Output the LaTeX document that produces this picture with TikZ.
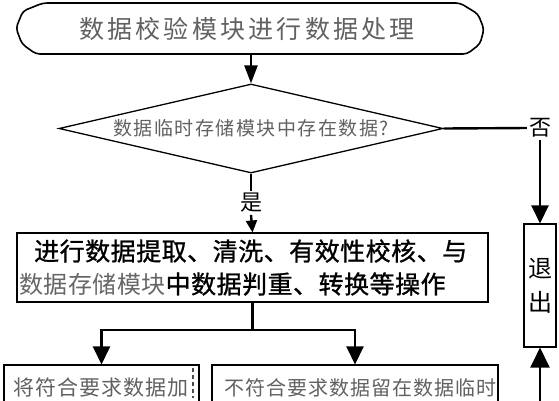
\documentclass[tikz,border=0pt]{standalone}
\usepackage{fontspec}
\newfontfamily\cjk{Noto Sans CJK SC}
\newfontfamily\cjkb{Noto Sans CJK SC}[FakeBold=1.0]
\usetikzlibrary{positioning,arrows.meta,shapes.geometric}
\newcommand{\cjksize}[3]{\cjk\fontsize{#1}{#2}\selectfont\addfontfeature{LetterSpace=#3}}
\newcommand{\cjkbsize}[3]{\cjkb\fontsize{#1}{#2}\selectfont\addfontfeature{LetterSpace=#3}}
\tikzset{
  wire/.style  = {line width=2.4pt},
  arr/.style   = {wire, -{Triangle[length=18pt,width=17pt]}},
  sarr/.style  = {wire, -{Triangle[length=12pt,width=11pt]}},
  tline/.style = {line width=1.6pt, rounded corners=4pt},
  pbox/.style  = {draw, line width=1.1pt, inner sep=0pt},
  dia/.style   = {diamond, draw, line width=1.3pt, aspect=4.3, inner sep=0pt,
                  minimum width=384pt, minimum height=89pt},
  gtxt/.style  = {text=black!62, inner sep=0pt},
  btxt/.style  = {text=black, inner sep=0pt},
  lbl/.style   = {font=\cjksize{22}{22}{0}, inner sep=2pt},
}
\begin{document}
\begin{tikzpicture}[x=1pt, y=-1pt]
  \clip (0,0) rectangle (559,400);
  % start
  \node[gtxt, minimum width=468pt, minimum height=51pt,
        font=\cjksize{25}{25}{13}] (start) at (247,28.5) {数据校验模块进行数据处理};
  \draw[tline] (43,3) -- (460,3) -- (478,14) -- (484,29) -- (480,44) -- (467,54)
    -- (36,54) -- (22,44) -- (16,28) -- (23,11) -- cycle;
  % decision
  \node[dia, text=black!62, font=\cjksize{19}{19}{8}] (dec) at (251,128.5) {数据临时存储模块中存在数据?};
  \draw[arr, -{Triangle[length=18pt,width=13pt]}] (start.south -| dec.north) -- (dec.north);
  \node[lbl] (yes) at (251,203) {是};
  \node[lbl] (no) at (540,128) {否};
  % process
  \node[pbox, minimum width=471pt, minimum height=69pt] (proc) at (252.5,267.5) {};
  \node[btxt, anchor=west, font=\cjkbsize{25}{25}{2}] (p1) at (34,251) {进行数据提取、清洗、有效性校核、与};
  \node[btxt, anchor=west, font=\cjkbsize{25}{25}{2}] (p2) at (19,284)
    {{\cjksize{24}{24}{2}\color{black!60}数据存储模块}中数据判重、转换等操作};
  % exit
  \node[pbox, minimum width=32pt, minimum height=123pt, align=center,
        font=\cjksize{24}{34}{0}] (exit) at (540,285.5) {退\\出};
  % results
  \node[pbox, minimum width=195pt, minimum height=80pt] (okL) at (101.5,405) {};
  \node[pbox, minimum width=286pt, minimum height=80pt] (noR) at (355,405) {};
  \node[gtxt, anchor=west, font=\cjksize{21}{21}{5}] (okT) at (13,388) {将符合要求数据加};
  \node[gtxt, anchor=west, font=\cjksize{20}{20}{5}] (noT) at (224,388) {不符合要求数据留在数据临时};
  \draw[line width=1.2pt, black!70, dash pattern=on 4pt off 3pt] (193,368) -- (193,398);
  % connectors
  \draw[wire] (dec.south) -- (yes.north);
  \draw[sarr] (yes.south) -- (proc.north);
  \draw[wire] (dec.east) -- (no.west);
  \draw[arr] (no.south) -- (exit.north);
  \coordinate (split) at (252.5,330);
  \draw[wire] (proc.south) -- (split);
  \draw[arr] (split) -| (okL.north);
  \draw[arr] (split) -| (noR.north);
  \coordinate (bot) at (540,420);
  \draw[arr, -{Triangle[length=20pt,width=19pt]}] (bot) -- (exit.south);
\end{tikzpicture}
\end{document}
